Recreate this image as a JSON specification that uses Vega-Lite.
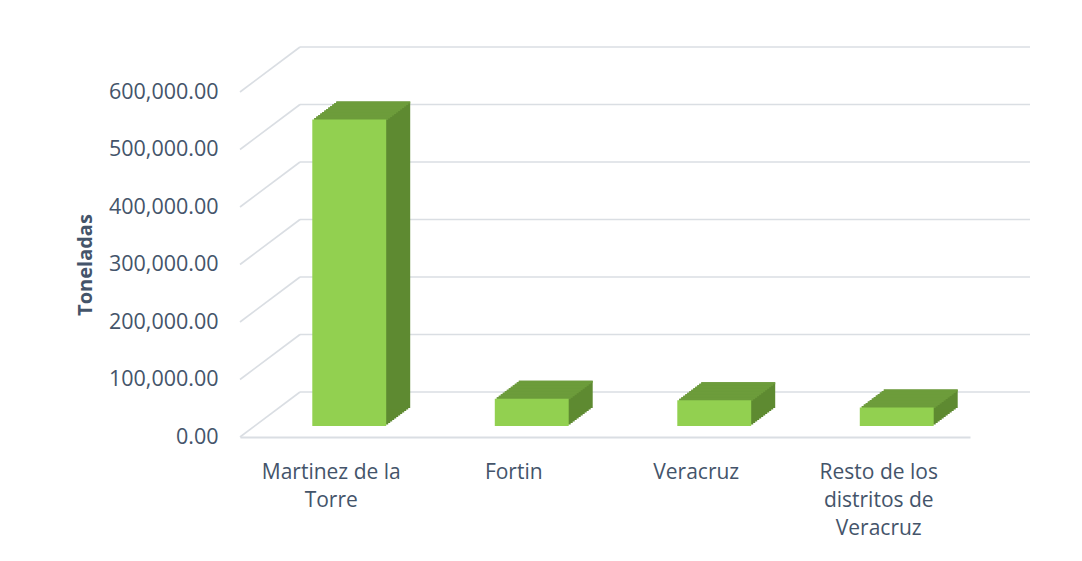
{
  "$schema": "https://vega.github.io/schema/vega-lite/v6.json",
  "width": 730,
  "height": 345,
  "autosize": {"type": "none"},
  "padding": {"left": 240, "top": 92, "right": 112, "bottom": 124},
  "background": "#FFFFFF",
  "config": {"view": {"stroke": null}, "font": "Open Sans"},
  "datasets": {
    "prod": [
      {"distrito": "Martinez de la Torre", "toneladas": 533000},
      {"distrito": "Fortin", "toneladas": 47600},
      {"distrito": "Veracruz", "toneladas": 44700},
      {"distrito": "Resto de los distritos de Veracruz", "toneladas": 32000}
    ],
    "ticks": [{"t": 0}, {"t": 100000}, {"t": 200000}, {"t": 300000}, {"t": 400000}, {"t": 500000}, {"t": 600000}]
  },
  "resolve": {"scale": {"x": "independent"}, "axis": {"x": "independent"}},
  "layer": [
    {
      "data": {"name": "ticks"},
      "mark": {"type": "rule", "color": "#DADEE3", "strokeWidth": 1.7, "yOffset": -45, "y2Offset": -45},
      "encoding": {
        "x": {"datum": 0, "type": "quantitative", "scale": {"domain": [0, 1], "range": [60, 790]}, "axis": null},
        "x2": {"datum": 1},
        "y": {"field": "t", "type": "quantitative", "scale": {"domain": [0, 600000], "nice": false}},
        "y2": {"field": "t"}
      }
    },
    {
      "data": {"name": "ticks"},
      "mark": {"type": "rule", "color": "#DADEE3", "strokeWidth": 1.7, "y2Offset": -45},
      "encoding": {
        "x": {"datum": 0, "type": "quantitative", "scale": {"domain": [0, 1], "range": [0, 60]}, "axis": null},
        "x2": {"datum": 1},
        "y": {"field": "t", "type": "quantitative", "scale": {"domain": [0, 600000], "nice": false}},
        "y2": {"field": "t"}
      }
    },
    {
      "data": {"name": "prod"},
      "encoding": {
        "x": {
          "field": "distrito", "type": "nominal", "sort": null,
          "scale": {"paddingInner": 0.595, "paddingOuter": 0.2975},
          "axis": {
            "title": null, "labelAngle": 0, "ticks": false, "domainColor": "#DADEE3", "domainWidth": 2,
            "labelColor": "#44546A", "labelFont": "Open Sans", "labelFontSize": 21, "labelPadding": 24, "labelLineHeight": 28,
            "labelExpr": "datum.value == 'Martinez de la Torre' ? ['Martinez de la', 'Torre'] : datum.value == 'Resto de los distritos de Veracruz' ? ['Resto de los', 'distritos de', 'Veracruz'] : datum.value"
          }
        },
        "y": {
          "field": "toneladas", "type": "quantitative",
          "scale": {"domain": [0, 600000], "nice": false},
          "axis": {
            "title": "Toneladas", "values": [0, 100000, 200000, 300000, 400000, 500000, 600000], "format": ",.2f",
            "grid": false, "domain": false, "ticks": false, "labelPadding": 22,
            "labelColor": "#44546A", "labelFont": "Open Sans", "labelFontSize": 21.5,
            "titleColor": "#44546A", "titleFont": "Open Sans", "titleFontSize": 20, "titleFontWeight": "bold", "titlePadding": 13
          }
        }
      },
      "layer": [
        {"mark": {"type": "bar", "color": "#5E8A31", "xOffset": 20, "x2Offset": 20, "yOffset": -12.5, "y2Offset": -12.5}},
        {"mark": {"type": "bar", "color": "#5E8A31", "xOffset": 22, "x2Offset": 22, "yOffset": -14, "y2Offset": -14}},
        {"mark": {"type": "bar", "color": "#5E8A31", "xOffset": 24, "x2Offset": 24, "yOffset": -15.5, "y2Offset": -15.5}},
        {"mark": {"type": "bar", "color": "#5E8A31", "xOffset": 26, "x2Offset": 26, "yOffset": -17, "y2Offset": -17}},
        {"mark": {"type": "bar", "color": "#5E8A31", "xOffset": 28, "x2Offset": 28, "yOffset": -18.5, "y2Offset": -18.5}},
        {"mark": {"type": "bar", "color": "#5E8A31", "xOffset": 30, "x2Offset": 30, "yOffset": -20, "y2Offset": -20}},
        {"mark": {"type": "bar", "color": "#5E8A31", "xOffset": 32, "x2Offset": 32, "yOffset": -21.5, "y2Offset": -21.5}},
        {"mark": {"type": "bar", "color": "#5E8A31", "xOffset": 34, "x2Offset": 34, "yOffset": -23, "y2Offset": -23}},
        {"mark": {"type": "bar", "color": "#5E8A31", "xOffset": 36, "x2Offset": 36, "yOffset": -24.5, "y2Offset": -24.5}},
        {"mark": {"type": "bar", "color": "#5E8A31", "xOffset": 38, "x2Offset": 38, "yOffset": -26, "y2Offset": -26}},
        {"mark": {"type": "bar", "color": "#5E8A31", "xOffset": 40, "x2Offset": 40, "yOffset": -27.5, "y2Offset": -27.5}},
        {"mark": {"type": "bar", "color": "#5E8A31", "xOffset": 42, "x2Offset": 42, "yOffset": -29, "y2Offset": -29}},
        {"mark": {"type": "bar", "color": "#6D9C3B", "xOffset": 20, "x2Offset": 20, "yOffset": -12.5, "y2Offset": -10.5}, "encoding": {"y2": {"field": "toneladas"}}},
        {"mark": {"type": "bar", "color": "#6D9C3B", "xOffset": 22, "x2Offset": 22, "yOffset": -14, "y2Offset": -12}, "encoding": {"y2": {"field": "toneladas"}}},
        {"mark": {"type": "bar", "color": "#6D9C3B", "xOffset": 24, "x2Offset": 24, "yOffset": -15.5, "y2Offset": -13.5}, "encoding": {"y2": {"field": "toneladas"}}},
        {"mark": {"type": "bar", "color": "#6D9C3B", "xOffset": 26, "x2Offset": 26, "yOffset": -17, "y2Offset": -15}, "encoding": {"y2": {"field": "toneladas"}}},
        {"mark": {"type": "bar", "color": "#6D9C3B", "xOffset": 28, "x2Offset": 28, "yOffset": -18.5, "y2Offset": -16.5}, "encoding": {"y2": {"field": "toneladas"}}},
        {"mark": {"type": "bar", "color": "#6D9C3B", "xOffset": 30, "x2Offset": 30, "yOffset": -20, "y2Offset": -18}, "encoding": {"y2": {"field": "toneladas"}}},
        {"mark": {"type": "bar", "color": "#6D9C3B", "xOffset": 32, "x2Offset": 32, "yOffset": -21.5, "y2Offset": -19.5}, "encoding": {"y2": {"field": "toneladas"}}},
        {"mark": {"type": "bar", "color": "#6D9C3B", "xOffset": 34, "x2Offset": 34, "yOffset": -23, "y2Offset": -21}, "encoding": {"y2": {"field": "toneladas"}}},
        {"mark": {"type": "bar", "color": "#6D9C3B", "xOffset": 36, "x2Offset": 36, "yOffset": -24.5, "y2Offset": -22.5}, "encoding": {"y2": {"field": "toneladas"}}},
        {"mark": {"type": "bar", "color": "#6D9C3B", "xOffset": 38, "x2Offset": 38, "yOffset": -26, "y2Offset": -24}, "encoding": {"y2": {"field": "toneladas"}}},
        {"mark": {"type": "bar", "color": "#6D9C3B", "xOffset": 40, "x2Offset": 40, "yOffset": -27.5, "y2Offset": -25.5}, "encoding": {"y2": {"field": "toneladas"}}},
        {"mark": {"type": "bar", "color": "#6D9C3B", "xOffset": 42, "x2Offset": 42, "yOffset": -29, "y2Offset": -27}, "encoding": {"y2": {"field": "toneladas"}}},
        {"mark": {"type": "bar", "color": "#92D050", "xOffset": 18, "x2Offset": 18, "yOffset": -11, "y2Offset": -11}}
      ]
    }
  ]
}
